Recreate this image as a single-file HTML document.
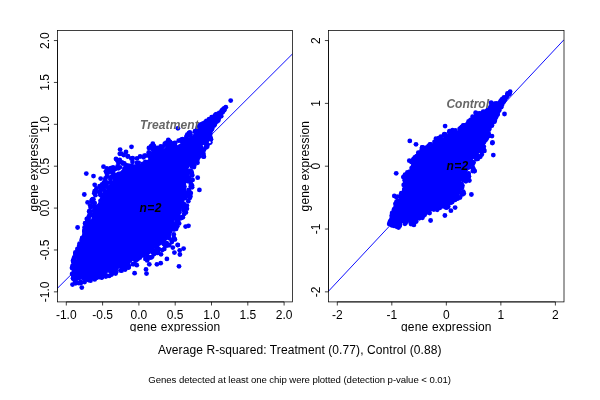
<!DOCTYPE html>
<html><head><meta charset="utf-8"><title>Gene expression scatter plots</title>
<style>
html,body{margin:0;padding:0;background:#fff;}
svg{display:block;}
text{font-family:"Liberation Sans",Arial,Helvetica,sans-serif;font-size:12px;fill:#000;}
.bi{font-weight:bold;font-style:italic;}
</style></head>
<body>
<svg width="600" height="400" viewBox="0 0 600 400">
<defs>
<clipPath id="cb"><rect x="0" y="0" width="600" height="331.6"/></clipPath>
<clipPath id="cl"><rect x="57.50" y="30.50" width="235.10" height="271.40"/></clipPath>
<clipPath id="cr"><rect x="328.50" y="30.50" width="235.50" height="271.40"/></clipPath>
</defs>
<rect width="600" height="400" fill="#fff"/>
<!-- left plot -->
<g fill="#0000ff">
<path d="M83.3 278.7 L83.7 278.6 L84.1 278.5 L92.4 276.9 L102.1 274.4 L113.4 271.1 L121.3 267.2 L129.6 263.1 L131.7 261.9 L134.8 258.4 L135.2 258.0 L135.6 257.6 L136.1 257.3 L139.2 255.5 L139.7 255.3 L140.2 255.1 L140.7 254.9 L141.2 254.8 L141.7 254.8 L142.2 254.8 L142.8 254.9 L143.3 255.0 L143.8 255.2 L144.3 255.4 L144.7 255.7 L147.1 257.3 L149.4 254.4 L149.7 254.0 L150.1 253.7 L150.4 253.4 L150.8 253.2 L151.1 253.0 L153.6 249.3 L156.5 247.5 L157.0 247.3 L161.2 245.1 L165.4 241.8 L167.8 238.9 L168.9 237.1 L168.3 234.0 L168.2 233.4 L168.2 232.7 L168.2 232.0 L168.3 231.3 L168.5 230.7 L168.7 230.0 L169.0 229.4 L169.4 228.8 L169.8 228.3 L172.4 225.0 L174.5 219.4 L174.8 218.8 L175.1 218.2 L175.4 217.7 L175.8 217.2 L176.2 216.8 L178.8 214.3 L180.8 211.6 L183.6 204.5 L184.7 200.5 L185.6 195.4 L185.7 195.0 L186.5 191.9 L186.5 188.6 L186.5 187.8 L186.7 187.1 L186.9 186.4 L186.9 186.4 L186.7 186.1 L186.4 185.5 L186.2 184.8 L186.1 184.1 L186.0 183.5 L186.0 182.8 L186.1 182.1 L186.2 181.4 L186.4 180.8 L187.3 178.0 L187.3 178.0 L189.1 178.0 L190.0 174.7 L188.9 172.6 L188.7 172.2 L188.5 171.7 L188.4 171.2 L188.3 170.7 L188.3 170.2 L188.3 169.7 L188.4 169.3 L188.5 168.8 L188.7 168.3 L188.9 167.9 L189.1 167.4 L189.4 167.0 L189.7 166.6 L190.1 166.3 L192.6 164.1 L192.7 164.0 L194.2 162.7 L194.2 161.0 L194.2 160.5 L194.3 160.0 L194.4 159.5 L194.6 159.0 L194.8 158.6 L195.0 158.2 L195.3 157.7 L195.7 157.4 L196.0 157.0 L196.4 156.7 L196.9 156.5 L197.3 156.2 L197.8 156.1 L201.2 155.0 L201.8 154.3 L200.9 150.7 L200.8 150.2 L200.8 149.7 L200.8 149.1 L200.9 148.6 L201.0 148.1 L201.2 147.6 L201.4 147.1 L201.6 146.7 L201.9 146.3 L202.3 145.9 L202.7 145.5 L203.1 145.2 L203.5 144.9 L205.6 143.8 L206.6 141.6 L209.2 143.2 L210.0 141.6 L211.2 138.4 L209.8 134.3 L209.8 134.1 L209.7 133.9 L209.7 133.7 L209.7 133.4 L209.7 133.2 L209.8 133.0 L209.8 132.8 L209.9 132.6 L210.0 132.4 L214.2 125.7 L214.3 125.7 L219.2 118.2 L222.6 112.4 L222.7 112.3 L225.7 107.6 L225.8 107.3 L224.2 108.5 L219.2 112.7 L219.1 112.8 L218.9 112.9 L211.5 117.0 L206.6 121.1 L206.4 121.3 L199.9 125.3 L195.4 130.2 L195.3 130.3 L195.1 130.5 L194.9 130.6 L194.8 130.7 L191.7 132.2 L194.7 134.1 L190.0 136.4 L185.4 140.2 L185.1 140.4 L184.8 140.7 L181.1 142.9 L176.4 145.7 L175.9 145.9 L175.4 146.1 L175.0 146.2 L174.5 146.3 L174.0 146.4 L173.4 146.4 L172.9 146.3 L172.4 146.2 L172.0 146.1 L171.5 145.9 L171.0 145.7 L169.1 144.5 L167.0 146.1 L161.9 150.3 L161.5 150.6 L161.1 150.9 L160.6 151.1 L160.2 151.3 L159.7 151.4 L159.2 151.5 L158.7 151.5 L158.2 151.5 L157.7 151.4 L157.2 151.3 L156.7 151.1 L156.3 150.9 L155.8 150.7 L153.6 149.3 L152.0 151.6 L150.0 155.8 L150.0 158.0 L142.3 163.5 L137.6 164.4 L136.8 164.5 L135.9 164.5 L135.1 164.5 L134.2 164.3 L129.4 163.4 L124.2 162.6 L124.3 162.9 L124.3 163.8 L124.2 164.7 L124.1 165.6 L123.9 166.5 L123.5 167.4 L123.1 168.2 L122.6 168.9 L122.1 169.6 L121.4 170.3 L120.7 170.9 L120.0 171.4 L119.2 171.8 L118.4 172.2 L117.5 172.4 L113.0 173.6 L113.1 174.2 L113.3 175.1 L113.4 176.0 L113.4 176.9 L113.3 177.8 L113.1 178.8 L112.8 179.6 L112.4 180.5 L112.0 181.3 L111.4 182.0 L108.8 185.2 L106.6 188.8 L106.1 189.5 L105.5 190.2 L104.8 190.9 L104.1 191.4 L103.3 191.9 L101.9 192.7 L101.4 196.1 L101.3 196.9 L101.1 197.7 L100.8 198.5 L100.4 199.3 L100.0 200.0 L96.9 204.7 L96.9 205.0 L93.1 205.0 L93.4 207.7 L93.4 208.2 L93.4 208.7 L93.3 209.3 L91.4 218.5 L91.3 219.0 L91.1 219.5 L90.8 220.0 L86.3 227.8 L87.1 229.7 L87.3 230.2 L87.4 230.7 L87.5 231.2 L87.5 231.7 L87.5 232.3 L87.4 232.8 L87.2 233.3 L87.1 233.8 L83.8 241.2 L80.4 249.6 L80.4 249.6 L77.8 255.9 L75.5 262.1 L75.2 269.8 L76.1 276.3 L76.1 276.8 L76.1 277.3 L75.9 280.1 L76.3 280.3 L79.1 280.3Z"/>
<circle cx="188.8" cy="133.5" r="2.4"/>
<circle cx="142.3" cy="255.3" r="2.4"/>
<circle cx="127.3" cy="263.1" r="2.4"/>
<circle cx="87.9" cy="218.9" r="2.4"/>
<circle cx="75.8" cy="261.4" r="2.4"/>
<circle cx="110.8" cy="168.1" r="2.4"/>
<circle cx="94.5" cy="202.8" r="2.4"/>
<circle cx="112.2" cy="171.5" r="2.4"/>
<circle cx="192.2" cy="165.0" r="2.4"/>
<circle cx="193.7" cy="165.5" r="2.4"/>
<circle cx="74.1" cy="278.4" r="2.4"/>
<circle cx="158.4" cy="150.6" r="2.4"/>
<circle cx="91.9" cy="199.9" r="2.4"/>
<circle cx="156.4" cy="149.9" r="2.4"/>
<circle cx="93.4" cy="199.3" r="2.4"/>
<circle cx="187.4" cy="195.7" r="2.4"/>
<circle cx="184.5" cy="143.0" r="2.4"/>
<circle cx="209.9" cy="141.9" r="2.4"/>
<circle cx="104.3" cy="274.0" r="2.4"/>
<circle cx="116.0" cy="272.2" r="2.4"/>
<circle cx="187.6" cy="179.7" r="2.4"/>
<circle cx="110.3" cy="177.4" r="2.4"/>
<circle cx="171.8" cy="242.0" r="2.4"/>
<circle cx="186.0" cy="196.0" r="2.4"/>
<circle cx="91.0" cy="277.3" r="2.4"/>
<circle cx="128.1" cy="265.4" r="2.4"/>
<circle cx="110.7" cy="182.7" r="2.4"/>
<circle cx="167.6" cy="145.2" r="2.4"/>
<circle cx="136.2" cy="259.6" r="2.4"/>
<circle cx="188.6" cy="134.7" r="2.4"/>
<circle cx="80.9" cy="244.5" r="2.4"/>
<circle cx="119.7" cy="159.8" r="2.4"/>
<circle cx="152.7" cy="153.6" r="2.4"/>
<circle cx="183.8" cy="207.6" r="2.4"/>
<circle cx="178.8" cy="218.8" r="2.4"/>
<circle cx="77.2" cy="256.7" r="2.4"/>
<circle cx="149.7" cy="257.3" r="2.4"/>
<circle cx="205.0" cy="122.7" r="2.4"/>
<circle cx="100.4" cy="194.2" r="2.4"/>
<circle cx="200.3" cy="152.8" r="2.4"/>
<circle cx="132.8" cy="264.2" r="2.4"/>
<circle cx="186.4" cy="136.7" r="2.4"/>
<circle cx="187.5" cy="181.2" r="2.4"/>
<circle cx="192.0" cy="175.4" r="2.4"/>
<circle cx="114.3" cy="177.4" r="2.4"/>
<circle cx="113.2" cy="173.2" r="2.4"/>
<circle cx="80.7" cy="253.1" r="2.4"/>
<circle cx="73.7" cy="275.1" r="2.4"/>
<circle cx="165.8" cy="244.9" r="2.4"/>
<circle cx="182.8" cy="217.3" r="2.4"/>
<circle cx="157.4" cy="252.9" r="2.4"/>
<circle cx="149.7" cy="154.7" r="2.4"/>
<circle cx="194.2" cy="165.2" r="2.4"/>
<circle cx="179.4" cy="212.2" r="2.4"/>
<circle cx="137.0" cy="163.0" r="2.4"/>
<circle cx="171.4" cy="144.2" r="2.4"/>
<circle cx="90.7" cy="277.6" r="2.4"/>
<circle cx="185.1" cy="139.8" r="2.4"/>
<circle cx="79.6" cy="243.6" r="2.4"/>
<circle cx="168.9" cy="232.1" r="2.4"/>
<circle cx="196.6" cy="156.8" r="2.4"/>
<circle cx="78.4" cy="254.1" r="2.4"/>
<circle cx="157.4" cy="247.7" r="2.4"/>
<circle cx="78.8" cy="283.1" r="2.4"/>
<circle cx="96.6" cy="277.5" r="2.4"/>
<circle cx="126.2" cy="266.4" r="2.4"/>
<circle cx="79.2" cy="245.8" r="2.4"/>
<circle cx="209.1" cy="131.4" r="2.4"/>
<circle cx="211.3" cy="126.9" r="2.4"/>
<circle cx="104.5" cy="191.1" r="2.4"/>
<circle cx="223.0" cy="109.5" r="2.4"/>
<circle cx="181.8" cy="141.5" r="2.4"/>
<circle cx="80.5" cy="250.1" r="2.4"/>
<circle cx="74.3" cy="267.7" r="2.4"/>
<circle cx="75.1" cy="277.8" r="2.4"/>
<circle cx="86.8" cy="230.3" r="2.4"/>
<circle cx="149.2" cy="156.1" r="2.4"/>
<circle cx="94.6" cy="208.0" r="2.4"/>
<circle cx="187.2" cy="135.7" r="2.4"/>
<circle cx="191.8" cy="166.6" r="2.4"/>
<circle cx="93.4" cy="278.2" r="2.4"/>
<circle cx="90.5" cy="211.8" r="2.4"/>
<circle cx="153.7" cy="251.0" r="2.4"/>
<circle cx="193.5" cy="160.9" r="2.4"/>
<circle cx="152.6" cy="252.3" r="2.4"/>
<circle cx="107.0" cy="186.8" r="2.4"/>
<circle cx="165.8" cy="144.3" r="2.4"/>
<circle cx="118.7" cy="174.0" r="2.4"/>
<circle cx="155.9" cy="150.8" r="2.4"/>
<circle cx="93.8" cy="206.3" r="2.4"/>
<circle cx="84.9" cy="233.5" r="2.4"/>
<circle cx="176.3" cy="214.4" r="2.4"/>
<circle cx="85.1" cy="223.5" r="2.4"/>
<circle cx="153.8" cy="151.2" r="2.4"/>
<circle cx="108.5" cy="172.5" r="2.4"/>
<circle cx="199.4" cy="128.4" r="2.4"/>
<circle cx="140.9" cy="255.0" r="2.4"/>
<circle cx="73.0" cy="260.8" r="2.4"/>
<circle cx="74.0" cy="270.4" r="2.4"/>
<circle cx="100.0" cy="272.9" r="2.4"/>
<circle cx="142.9" cy="164.0" r="2.4"/>
<circle cx="168.7" cy="146.3" r="2.4"/>
<circle cx="198.9" cy="156.7" r="2.4"/>
<circle cx="209.4" cy="135.2" r="2.4"/>
<circle cx="208.2" cy="143.8" r="2.4"/>
<circle cx="107.7" cy="182.8" r="2.4"/>
<circle cx="75.0" cy="282.0" r="2.4"/>
<circle cx="178.1" cy="222.2" r="2.4"/>
<circle cx="169.1" cy="238.2" r="2.4"/>
<circle cx="198.1" cy="128.4" r="2.4"/>
<circle cx="189.0" cy="133.2" r="2.4"/>
<circle cx="152.3" cy="148.7" r="2.4"/>
<circle cx="82.8" cy="240.4" r="2.4"/>
<circle cx="143.3" cy="255.2" r="2.4"/>
<circle cx="186.2" cy="177.7" r="2.4"/>
<circle cx="85.5" cy="239.9" r="2.4"/>
<circle cx="175.9" cy="226.1" r="2.4"/>
<circle cx="170.8" cy="146.2" r="2.4"/>
<circle cx="186.5" cy="138.3" r="2.4"/>
<circle cx="193.5" cy="159.4" r="2.4"/>
<circle cx="73.6" cy="273.0" r="2.4"/>
<circle cx="170.1" cy="141.9" r="2.4"/>
<circle cx="96.9" cy="277.5" r="2.4"/>
<circle cx="89.8" cy="278.0" r="2.4"/>
<circle cx="201.3" cy="147.7" r="2.4"/>
<circle cx="102.5" cy="187.7" r="2.4"/>
<circle cx="78.3" cy="252.3" r="2.4"/>
<circle cx="99.0" cy="273.9" r="2.4"/>
<circle cx="110.6" cy="169.0" r="2.4"/>
<circle cx="174.0" cy="218.5" r="2.4"/>
<circle cx="94.2" cy="210.6" r="2.4"/>
<circle cx="112.1" cy="176.4" r="2.4"/>
<circle cx="141.4" cy="254.8" r="2.4"/>
<circle cx="188.8" cy="189.9" r="2.4"/>
<circle cx="211.1" cy="130.3" r="2.4"/>
<circle cx="199.1" cy="155.0" r="2.4"/>
<circle cx="86.4" cy="226.3" r="2.4"/>
<circle cx="199.6" cy="126.2" r="2.4"/>
<circle cx="169.2" cy="234.9" r="2.4"/>
<circle cx="162.8" cy="146.7" r="2.4"/>
<circle cx="185.5" cy="198.0" r="2.4"/>
<circle cx="73.9" cy="259.5" r="2.4"/>
<circle cx="112.6" cy="169.5" r="2.4"/>
<circle cx="198.8" cy="129.4" r="2.4"/>
<circle cx="170.6" cy="143.1" r="2.4"/>
<circle cx="170.1" cy="231.8" r="2.4"/>
<circle cx="172.2" cy="229.1" r="2.4"/>
<circle cx="86.4" cy="279.4" r="2.4"/>
<circle cx="87.9" cy="278.8" r="2.4"/>
<circle cx="181.5" cy="139.7" r="2.4"/>
<circle cx="75.6" cy="253.5" r="2.4"/>
<circle cx="90.8" cy="221.7" r="2.4"/>
<circle cx="103.9" cy="182.6" r="2.4"/>
<circle cx="202.9" cy="124.6" r="2.4"/>
<circle cx="118.3" cy="168.3" r="2.4"/>
<circle cx="110.5" cy="179.6" r="2.4"/>
<circle cx="199.8" cy="146.7" r="2.4"/>
<circle cx="74.2" cy="257.5" r="2.4"/>
<circle cx="92.0" cy="277.1" r="2.4"/>
<circle cx="110.8" cy="171.5" r="2.4"/>
<circle cx="194.8" cy="157.1" r="2.4"/>
<circle cx="201.0" cy="148.2" r="2.4"/>
<circle cx="152.9" cy="149.1" r="2.4"/>
<circle cx="112.9" cy="270.2" r="2.4"/>
<circle cx="154.8" cy="148.1" r="2.4"/>
<circle cx="128.7" cy="266.4" r="2.4"/>
<circle cx="108.4" cy="171.5" r="2.4"/>
<circle cx="99.7" cy="276.3" r="2.4"/>
<circle cx="99.0" cy="191.9" r="2.4"/>
<circle cx="224.3" cy="110.1" r="2.4"/>
<circle cx="168.2" cy="229.9" r="2.4"/>
<circle cx="86.3" cy="224.0" r="2.4"/>
<circle cx="88.6" cy="218.8" r="2.4"/>
<circle cx="194.5" cy="161.4" r="2.4"/>
<circle cx="175.1" cy="145.9" r="2.4"/>
<circle cx="82.5" cy="239.5" r="2.4"/>
<circle cx="190.9" cy="184.0" r="2.4"/>
<circle cx="220.6" cy="115.7" r="2.4"/>
<circle cx="154.0" cy="254.1" r="2.4"/>
<circle cx="101.8" cy="276.2" r="2.4"/>
<circle cx="113.0" cy="171.4" r="2.4"/>
<circle cx="92.5" cy="202.0" r="2.4"/>
<circle cx="176.4" cy="222.1" r="2.4"/>
<circle cx="206.2" cy="144.5" r="2.4"/>
<circle cx="82.3" cy="237.8" r="2.4"/>
<circle cx="102.5" cy="188.4" r="2.4"/>
<circle cx="174.6" cy="143.4" r="2.4"/>
<circle cx="94.0" cy="275.9" r="2.4"/>
<circle cx="214.7" cy="116.0" r="2.4"/>
<circle cx="100.2" cy="191.5" r="2.4"/>
<circle cx="165.9" cy="245.7" r="2.4"/>
<circle cx="81.1" cy="249.2" r="2.4"/>
<circle cx="181.2" cy="218.1" r="2.4"/>
<circle cx="114.4" cy="270.0" r="2.4"/>
<circle cx="197.7" cy="127.9" r="2.4"/>
<circle cx="100.6" cy="195.2" r="2.4"/>
<circle cx="184.0" cy="204.2" r="2.4"/>
<circle cx="95.0" cy="210.8" r="2.4"/>
<circle cx="195.5" cy="135.0" r="2.4"/>
<circle cx="122.0" cy="267.7" r="2.4"/>
<circle cx="85.5" cy="228.3" r="2.4"/>
<circle cx="196.8" cy="158.3" r="2.4"/>
<circle cx="86.0" cy="235.1" r="2.4"/>
<circle cx="102.2" cy="198.4" r="2.4"/>
<circle cx="100.5" cy="200.8" r="2.4"/>
<circle cx="110.3" cy="270.4" r="2.4"/>
<circle cx="104.8" cy="186.6" r="2.4"/>
<circle cx="173.0" cy="226.3" r="2.4"/>
<circle cx="76.9" cy="276.9" r="2.4"/>
<circle cx="185.7" cy="192.9" r="2.4"/>
<circle cx="115.3" cy="269.8" r="2.4"/>
<circle cx="191.2" cy="172.9" r="2.4"/>
<circle cx="128.0" cy="266.3" r="2.4"/>
<circle cx="150.3" cy="157.8" r="2.4"/>
<circle cx="89.6" cy="222.8" r="2.4"/>
<circle cx="174.2" cy="224.3" r="2.4"/>
<circle cx="105.8" cy="276.6" r="2.4"/>
<circle cx="177.2" cy="226.2" r="2.4"/>
<circle cx="167.1" cy="244.7" r="2.4"/>
<circle cx="74.3" cy="264.2" r="2.4"/>
<circle cx="139.8" cy="253.6" r="2.4"/>
<circle cx="205.0" cy="142.6" r="2.4"/>
<circle cx="114.9" cy="269.5" r="2.4"/>
<circle cx="194.8" cy="156.4" r="2.4"/>
<circle cx="102.3" cy="275.9" r="2.4"/>
<circle cx="200.2" cy="150.5" r="2.4"/>
<circle cx="105.5" cy="184.0" r="2.4"/>
<circle cx="171.2" cy="229.0" r="2.4"/>
<circle cx="132.5" cy="161.9" r="2.4"/>
<circle cx="160.6" cy="150.0" r="2.4"/>
<circle cx="184.3" cy="142.9" r="2.4"/>
<circle cx="171.1" cy="222.9" r="2.4"/>
<circle cx="194.0" cy="160.7" r="2.4"/>
<circle cx="156.2" cy="249.6" r="2.4"/>
<circle cx="166.4" cy="142.7" r="2.4"/>
<circle cx="86.7" cy="223.6" r="2.4"/>
<circle cx="172.2" cy="228.3" r="2.4"/>
<circle cx="101.4" cy="276.6" r="2.4"/>
<circle cx="143.8" cy="255.1" r="2.4"/>
<circle cx="145.3" cy="161.9" r="2.4"/>
<circle cx="113.2" cy="176.5" r="2.4"/>
<circle cx="73.9" cy="259.1" r="2.4"/>
<circle cx="87.3" cy="232.2" r="2.4"/>
<circle cx="156.8" cy="250.5" r="2.4"/>
<circle cx="192.0" cy="185.5" r="2.4"/>
<circle cx="88.9" cy="216.3" r="2.4"/>
<circle cx="135.8" cy="257.0" r="2.4"/>
<circle cx="137.2" cy="254.7" r="2.4"/>
<circle cx="87.7" cy="236.1" r="2.4"/>
<circle cx="89.8" cy="212.7" r="2.4"/>
<circle cx="114.6" cy="269.5" r="2.4"/>
<circle cx="81.1" cy="246.5" r="2.4"/>
<circle cx="131.3" cy="158.5" r="2.4"/>
<circle cx="190.5" cy="134.4" r="2.4"/>
<circle cx="151.4" cy="157.6" r="2.4"/>
<circle cx="175.0" cy="228.6" r="2.4"/>
<circle cx="73.4" cy="261.9" r="2.4"/>
<circle cx="188.6" cy="193.2" r="2.4"/>
<circle cx="175.2" cy="143.1" r="2.4"/>
<circle cx="184.4" cy="141.6" r="2.4"/>
<circle cx="119.9" cy="167.3" r="2.4"/>
<circle cx="151.4" cy="154.4" r="2.4"/>
<circle cx="111.3" cy="274.7" r="2.4"/>
<circle cx="122.9" cy="163.5" r="2.4"/>
<circle cx="75.6" cy="254.5" r="2.4"/>
<circle cx="124.9" cy="269.1" r="2.4"/>
<circle cx="87.3" cy="276.2" r="2.4"/>
<circle cx="197.3" cy="159.9" r="2.4"/>
<circle cx="84.6" cy="231.2" r="2.4"/>
<circle cx="184.2" cy="213.9" r="2.4"/>
<circle cx="80.7" cy="283.2" r="2.4"/>
<circle cx="163.8" cy="243.9" r="2.4"/>
<circle cx="88.4" cy="234.7" r="2.4"/>
<circle cx="172.0" cy="222.7" r="2.4"/>
<circle cx="89.6" cy="211.7" r="2.4"/>
<circle cx="110.4" cy="271.0" r="2.4"/>
<circle cx="189.2" cy="178.1" r="2.4"/>
<circle cx="153.5" cy="252.1" r="2.4"/>
<circle cx="171.2" cy="227.3" r="2.4"/>
<circle cx="164.9" cy="245.0" r="2.4"/>
<circle cx="124.3" cy="163.5" r="2.4"/>
<circle cx="134.2" cy="259.1" r="2.4"/>
<circle cx="102.0" cy="277.3" r="2.4"/>
<circle cx="78.0" cy="250.0" r="2.4"/>
<circle cx="213.9" cy="124.9" r="2.4"/>
<circle cx="187.3" cy="177.1" r="2.4"/>
<circle cx="128.1" cy="262.6" r="2.4"/>
<circle cx="158.8" cy="249.1" r="2.4"/>
<circle cx="147.5" cy="257.0" r="2.4"/>
<circle cx="143.5" cy="157.3" r="2.4"/>
<circle cx="75.8" cy="274.1" r="2.4"/>
<circle cx="122.0" cy="162.5" r="2.4"/>
<circle cx="91.7" cy="214.9" r="2.4"/>
<circle cx="189.0" cy="190.3" r="2.4"/>
<circle cx="177.8" cy="214.5" r="2.4"/>
<circle cx="100.6" cy="188.7" r="2.4"/>
<circle cx="205.7" cy="142.6" r="2.4"/>
<circle cx="77.3" cy="253.7" r="2.4"/>
<circle cx="175.8" cy="218.2" r="2.4"/>
<circle cx="113.1" cy="269.6" r="2.4"/>
<circle cx="124.5" cy="168.4" r="2.4"/>
<circle cx="84.6" cy="239.5" r="2.4"/>
<circle cx="167.0" cy="143.1" r="2.4"/>
<circle cx="167.5" cy="146.9" r="2.4"/>
<circle cx="175.9" cy="217.9" r="2.4"/>
<circle cx="83.6" cy="242.8" r="2.4"/>
<circle cx="175.9" cy="148.0" r="2.4"/>
<circle cx="84.3" cy="243.4" r="2.4"/>
<circle cx="115.3" cy="168.9" r="2.4"/>
<circle cx="77.5" cy="276.1" r="2.4"/>
<circle cx="82.2" cy="238.5" r="2.4"/>
<circle cx="115.7" cy="269.1" r="2.4"/>
<circle cx="95.2" cy="191.6" r="2.4"/>
<circle cx="86.6" cy="239.5" r="2.4"/>
<circle cx="73.4" cy="278.8" r="2.4"/>
<circle cx="166.7" cy="243.1" r="2.4"/>
<circle cx="161.6" cy="148.9" r="2.4"/>
<circle cx="154.1" cy="146.2" r="2.4"/>
<circle cx="190.0" cy="195.0" r="2.4"/>
<circle cx="151.8" cy="156.4" r="2.4"/>
<circle cx="141.6" cy="254.5" r="2.4"/>
<circle cx="84.5" cy="231.2" r="2.4"/>
<circle cx="203.9" cy="156.7" r="2.4"/>
<circle cx="201.5" cy="151.7" r="2.4"/>
<circle cx="148.7" cy="152.4" r="2.4"/>
<circle cx="189.6" cy="171.0" r="2.4"/>
<circle cx="114.5" cy="271.5" r="2.4"/>
<circle cx="138.7" cy="162.8" r="2.4"/>
<circle cx="124.5" cy="267.3" r="2.4"/>
<circle cx="94.4" cy="203.6" r="2.4"/>
<circle cx="152.6" cy="251.4" r="2.4"/>
<circle cx="84.6" cy="232.0" r="2.4"/>
<circle cx="97.0" cy="206.6" r="2.4"/>
<circle cx="73.9" cy="276.2" r="2.4"/>
<circle cx="147.4" cy="258.5" r="2.4"/>
<circle cx="105.4" cy="178.5" r="2.4"/>
<circle cx="178.4" cy="215.9" r="2.4"/>
<circle cx="73.7" cy="276.9" r="2.4"/>
<circle cx="77.7" cy="275.7" r="2.4"/>
<circle cx="189.5" cy="135.2" r="2.4"/>
<circle cx="183.3" cy="210.0" r="2.4"/>
<circle cx="128.0" cy="262.4" r="2.4"/>
<circle cx="116.6" cy="267.6" r="2.4"/>
<circle cx="103.7" cy="189.4" r="2.4"/>
<circle cx="111.6" cy="271.5" r="2.4"/>
<circle cx="78.5" cy="249.0" r="2.4"/>
<circle cx="174.7" cy="225.6" r="2.4"/>
<circle cx="178.6" cy="216.6" r="2.4"/>
<circle cx="94.5" cy="277.7" r="2.4"/>
<circle cx="94.3" cy="211.4" r="2.4"/>
<circle cx="83.9" cy="278.5" r="2.4"/>
<circle cx="75.7" cy="283.3" r="2.4"/>
<circle cx="76.3" cy="282.2" r="2.4"/>
<circle cx="80.7" cy="281.7" r="2.4"/>
<circle cx="84.6" cy="282.1" r="2.4"/>
<circle cx="88.6" cy="280.0" r="2.4"/>
<circle cx="90.5" cy="280.7" r="2.4"/>
<circle cx="94.7" cy="279.4" r="2.4"/>
<circle cx="99.5" cy="277.0" r="2.4"/>
<circle cx="101.6" cy="277.5" r="2.4"/>
<circle cx="106.1" cy="275.5" r="2.4"/>
<circle cx="109.2" cy="275.9" r="2.4"/>
<circle cx="112.2" cy="273.6" r="2.4"/>
<circle cx="115.6" cy="273.5" r="2.4"/>
<circle cx="120.4" cy="270.4" r="2.4"/>
<circle cx="121.6" cy="270.7" r="2.4"/>
<circle cx="125.2" cy="269.6" r="2.4"/>
<circle cx="128.8" cy="266.9" r="2.4"/>
<circle cx="133.8" cy="264.1" r="2.4"/>
<circle cx="135.6" cy="260.8" r="2.4"/>
<circle cx="137.5" cy="259.3" r="2.4"/>
<circle cx="139.8" cy="257.7" r="2.4"/>
<circle cx="145.4" cy="258.9" r="2.4"/>
<circle cx="147.2" cy="260.4" r="2.4"/>
<circle cx="150.7" cy="257.7" r="2.4"/>
<circle cx="152.1" cy="256.8" r="2.4"/>
<circle cx="155.1" cy="252.8" r="2.4"/>
<circle cx="158.1" cy="252.6" r="2.4"/>
<circle cx="162.2" cy="250.1" r="2.4"/>
<circle cx="164.3" cy="248.9" r="2.4"/>
<circle cx="167.6" cy="245.4" r="2.4"/>
<circle cx="169.3" cy="245.1" r="2.4"/>
<circle cx="171.8" cy="240.3" r="2.4"/>
<circle cx="173.8" cy="237.7" r="2.4"/>
<circle cx="173.8" cy="234.5" r="2.4"/>
<circle cx="174.0" cy="229.6" r="2.4"/>
<circle cx="176.1" cy="228.9" r="2.4"/>
<circle cx="177.0" cy="226.6" r="2.4"/>
<circle cx="179.1" cy="223.4" r="2.4"/>
<circle cx="180.0" cy="218.2" r="2.4"/>
<circle cx="182.7" cy="217.0" r="2.4"/>
<circle cx="185.9" cy="212.4" r="2.4"/>
<circle cx="186.9" cy="208.7" r="2.4"/>
<circle cx="186.9" cy="205.6" r="2.4"/>
<circle cx="188.3" cy="201.2" r="2.4"/>
<circle cx="189.7" cy="198.1" r="2.4"/>
<circle cx="190.4" cy="196.6" r="2.4"/>
<circle cx="190.8" cy="193.1" r="2.4"/>
<circle cx="190.8" cy="186.3" r="2.4"/>
<circle cx="192.1" cy="187.3" r="2.4"/>
<circle cx="190.2" cy="181.7" r="2.4"/>
<circle cx="192.6" cy="179.9" r="2.4"/>
<circle cx="192.2" cy="175.0" r="2.4"/>
<circle cx="191.6" cy="172.2" r="2.4"/>
<circle cx="190.9" cy="171.0" r="2.4"/>
<circle cx="194.0" cy="167.1" r="2.4"/>
<circle cx="197.5" cy="162.8" r="2.4"/>
<circle cx="196.7" cy="160.1" r="2.4"/>
<circle cx="197.7" cy="158.2" r="2.4"/>
<circle cx="203.2" cy="156.4" r="2.4"/>
<circle cx="203.5" cy="153.9" r="2.4"/>
<circle cx="203.9" cy="149.9" r="2.4"/>
<circle cx="205.9" cy="147.5" r="2.4"/>
<circle cx="207.2" cy="146.7" r="2.4"/>
<circle cx="209.1" cy="140.7" r="2.4"/>
<circle cx="211.0" cy="139.3" r="2.4"/>
<circle cx="210.5" cy="137.5" r="2.4"/>
<circle cx="210.3" cy="133.8" r="2.4"/>
<circle cx="212.1" cy="128.4" r="2.4"/>
<circle cx="213.0" cy="125.2" r="2.4"/>
<circle cx="214.8" cy="124.4" r="2.4"/>
<circle cx="218.3" cy="120.5" r="2.4"/>
<circle cx="221.2" cy="116.2" r="2.4"/>
<circle cx="221.0" cy="114.0" r="2.4"/>
<circle cx="223.8" cy="110.3" r="2.4"/>
<circle cx="224.3" cy="108.3" r="2.4"/>
<circle cx="223.0" cy="111.6" r="2.4"/>
<circle cx="220.6" cy="113.4" r="2.4"/>
<circle cx="216.3" cy="114.1" r="2.4"/>
<circle cx="212.2" cy="117.4" r="2.4"/>
<circle cx="209.3" cy="119.7" r="2.4"/>
<circle cx="206.5" cy="120.8" r="2.4"/>
<circle cx="204.9" cy="123.0" r="2.4"/>
<circle cx="200.9" cy="124.4" r="2.4"/>
<circle cx="199.8" cy="125.5" r="2.4"/>
<circle cx="197.0" cy="129.9" r="2.4"/>
<circle cx="195.0" cy="131.2" r="2.4"/>
<circle cx="189.8" cy="132.3" r="2.4"/>
<circle cx="187.3" cy="134.7" r="2.4"/>
<circle cx="182.5" cy="139.2" r="2.4"/>
<circle cx="180.8" cy="140.1" r="2.4"/>
<circle cx="178.7" cy="140.7" r="2.4"/>
<circle cx="174.7" cy="142.8" r="2.4"/>
<circle cx="172.6" cy="143.6" r="2.4"/>
<circle cx="168.6" cy="140.9" r="2.4"/>
<circle cx="164.8" cy="143.7" r="2.4"/>
<circle cx="160.7" cy="146.3" r="2.4"/>
<circle cx="160.8" cy="147.6" r="2.4"/>
<circle cx="157.6" cy="147.8" r="2.4"/>
<circle cx="151.1" cy="146.1" r="2.4"/>
<circle cx="151.8" cy="147.2" r="2.4"/>
<circle cx="149.5" cy="153.0" r="2.4"/>
<circle cx="145.9" cy="155.6" r="2.4"/>
<circle cx="144.4" cy="155.7" r="2.4"/>
<circle cx="140.1" cy="156.5" r="2.4"/>
<circle cx="137.0" cy="158.4" r="2.4"/>
<circle cx="132.7" cy="158.2" r="2.4"/>
<circle cx="127.9" cy="156.1" r="2.4"/>
<circle cx="127.7" cy="156.6" r="2.4"/>
<circle cx="123.7" cy="155.1" r="2.4"/>
<circle cx="121.5" cy="153.7" r="2.4"/>
<circle cx="119.8" cy="153.8" r="2.4"/>
<circle cx="117.3" cy="160.5" r="2.4"/>
<circle cx="118.4" cy="163.0" r="2.4"/>
<circle cx="117.5" cy="166.4" r="2.4"/>
<circle cx="113.1" cy="167.4" r="2.4"/>
<circle cx="112.1" cy="168.1" r="2.4"/>
<circle cx="106.9" cy="168.5" r="2.4"/>
<circle cx="105.9" cy="171.3" r="2.4"/>
<circle cx="106.6" cy="173.1" r="2.4"/>
<circle cx="106.9" cy="176.4" r="2.4"/>
<circle cx="105.2" cy="180.4" r="2.4"/>
<circle cx="102.1" cy="184.4" r="2.4"/>
<circle cx="99.6" cy="186.1" r="2.4"/>
<circle cx="96.5" cy="188.3" r="2.4"/>
<circle cx="94.7" cy="191.1" r="2.4"/>
<circle cx="95.4" cy="195.2" r="2.4"/>
<circle cx="92.8" cy="199.1" r="2.4"/>
<circle cx="91.5" cy="201.2" r="2.4"/>
<circle cx="90.2" cy="205.3" r="2.4"/>
<circle cx="90.6" cy="207.7" r="2.4"/>
<circle cx="89.2" cy="211.2" r="2.4"/>
<circle cx="89.5" cy="215.6" r="2.4"/>
<circle cx="86.8" cy="218.9" r="2.4"/>
<circle cx="87.5" cy="220.4" r="2.4"/>
<circle cx="85.3" cy="223.1" r="2.4"/>
<circle cx="84.6" cy="227.5" r="2.4"/>
<circle cx="84.5" cy="230.1" r="2.4"/>
<circle cx="84.2" cy="235.2" r="2.4"/>
<circle cx="81.9" cy="240.3" r="2.4"/>
<circle cx="81.8" cy="239.9" r="2.4"/>
<circle cx="79.4" cy="247.0" r="2.4"/>
<circle cx="77.4" cy="249.0" r="2.4"/>
<circle cx="75.4" cy="252.4" r="2.4"/>
<circle cx="75.6" cy="254.8" r="2.4"/>
<circle cx="74.3" cy="258.3" r="2.4"/>
<circle cx="73.5" cy="262.0" r="2.4"/>
<circle cx="72.5" cy="266.0" r="2.4"/>
<circle cx="72.0" cy="267.9" r="2.4"/>
<circle cx="72.1" cy="273.9" r="2.4"/>
<circle cx="73.7" cy="275.9" r="2.4"/>
<circle cx="73.0" cy="278.3" r="2.4"/>
<circle cx="72.5" cy="284.6" r="2.4"/>
<circle cx="81.8" cy="287.6" r="2.4"/>
<circle cx="77.6" cy="227.5" r="2.4"/>
<circle cx="87.6" cy="202.4" r="2.4"/>
<circle cx="84.3" cy="194.5" r="2.4"/>
<circle cx="94.3" cy="193.2" r="2.4"/>
<circle cx="94.7" cy="184.8" r="2.4"/>
<circle cx="86.3" cy="173.6" r="2.4"/>
<circle cx="93.5" cy="176.1" r="2.4"/>
<circle cx="100.7" cy="178.6" r="2.4"/>
<circle cx="103.5" cy="166.7" r="2.4"/>
<circle cx="120.1" cy="149.6" r="2.4"/>
<circle cx="131.5" cy="146.8" r="2.4"/>
<circle cx="148.9" cy="147.9" r="2.4"/>
<circle cx="152.8" cy="143.7" r="2.4"/>
<circle cx="168.3" cy="139.9" r="2.4"/>
<circle cx="177.9" cy="128.3" r="2.4"/>
<circle cx="230.7" cy="100.6" r="2.4"/>
<circle cx="197.7" cy="177.7" r="2.4"/>
<circle cx="199.4" cy="189.9" r="2.4"/>
<circle cx="185.6" cy="226.6" r="2.4"/>
<circle cx="188.5" cy="225.8" r="2.4"/>
<circle cx="174.9" cy="239.4" r="2.4"/>
<circle cx="177.7" cy="244.9" r="2.4"/>
<circle cx="183.6" cy="248.6" r="2.4"/>
<circle cx="179.7" cy="250.3" r="2.4"/>
<circle cx="179.9" cy="254.5" r="2.4"/>
<circle cx="172.8" cy="247.6" r="2.4"/>
<circle cx="174.4" cy="252.6" r="2.4"/>
<circle cx="166.9" cy="258.9" r="2.4"/>
<circle cx="160.7" cy="263.2" r="2.4"/>
<circle cx="156.9" cy="264.3" r="2.4"/>
<circle cx="146.0" cy="269.4" r="2.4"/>
<circle cx="146.5" cy="273.6" r="2.4"/>
<circle cx="134.6" cy="273.2" r="2.4"/>
<circle cx="149.3" cy="264.3" r="2.4"/>
<circle cx="136.8" cy="265.2" r="2.4"/>
<circle cx="128.4" cy="267.7" r="2.4"/>
<circle cx="179.0" cy="266.3" r="2.4"/>
<circle cx="177.8" cy="245.1" r="2.4"/>
<circle cx="174.4" cy="239.2" r="2.4"/>
<circle cx="161.0" cy="254.3" r="2.4"/>
<circle cx="210.3" cy="142.5" r="2.4"/>
<circle cx="116.0" cy="159.0" r="2.4"/>
<circle cx="126.0" cy="152.0" r="2.4"/>
<circle cx="225.8" cy="107.2" r="2.4"/>
<circle cx="222.5" cy="112.2" r="2.4"/>
<circle cx="219.1" cy="118.1" r="2.4"/>
<circle cx="214.1" cy="125.6" r="2.4"/>
<circle cx="209.9" cy="132.3" r="2.4"/>
<circle cx="224.1" cy="109.7" r="2.4"/>
<circle cx="220.8" cy="115.1" r="2.4"/>
<circle cx="216.6" cy="121.8" r="2.4"/>
<circle cx="212.0" cy="129.0" r="2.4"/>
<circle cx="224.2" cy="108.7" r="2.4"/>
<circle cx="219.2" cy="112.9" r="2.4"/>
<circle cx="211.7" cy="117.1" r="2.4"/>
<circle cx="206.6" cy="121.3" r="2.4"/>
<circle cx="199.9" cy="125.5" r="2.4"/>
<circle cx="221.7" cy="110.8" r="2.4"/>
<circle cx="215.4" cy="115.0" r="2.4"/>
<circle cx="209.1" cy="119.2" r="2.4"/>
<circle cx="203.2" cy="123.4" r="2.4"/>
<circle cx="222.0" cy="110.5" r="2.4"/>
<circle cx="218.0" cy="115.5" r="2.4"/>
<circle cx="214.0" cy="120.0" r="2.4"/>
<circle cx="210.0" cy="125.0" r="2.4"/>
</g>
<circle cx="209.8" cy="142.3" r="1.0" fill="#fff"/>
<path d="M57.5 288.2 L292.6 53.8" stroke="#0000ff" stroke-width="0.95" fill="none" clip-path="url(#cl)"/>
<text class="bi" x="139.9" y="128.7" style="fill:#666" textLength="58.8">Treatment</text>
<text class="bi" x="139.6" y="212.2" textLength="21.8">n=2</text>
<rect x="57.50" y="30.50" width="235.10" height="271.40" fill="none" stroke="#000" stroke-width="0.75"/>
<path d="M66.30 301.90 H284.10" stroke="#000" stroke-width="0.75" fill="none"/>
<path d="M57.50 291.85 V40.55" stroke="#000" stroke-width="0.75" fill="none"/>
<path d="M66.30 301.90 v3.6" stroke="#000" stroke-width="0.75" fill="none"/>
<text x="66.30" y="319.0" text-anchor="middle">-1.0</text>
<path d="M102.60 301.90 v3.6" stroke="#000" stroke-width="0.75" fill="none"/>
<text x="102.60" y="319.0" text-anchor="middle">-0.5</text>
<path d="M138.90 301.90 v3.6" stroke="#000" stroke-width="0.75" fill="none"/>
<text x="138.90" y="319.0" text-anchor="middle">0.0</text>
<path d="M175.20 301.90 v3.6" stroke="#000" stroke-width="0.75" fill="none"/>
<text x="175.20" y="319.0" text-anchor="middle">0.5</text>
<path d="M211.50 301.90 v3.6" stroke="#000" stroke-width="0.75" fill="none"/>
<text x="211.50" y="319.0" text-anchor="middle">1.0</text>
<path d="M247.80 301.90 v3.6" stroke="#000" stroke-width="0.75" fill="none"/>
<text x="247.80" y="319.0" text-anchor="middle">1.5</text>
<path d="M284.10 301.90 v3.6" stroke="#000" stroke-width="0.75" fill="none"/>
<text x="284.10" y="319.0" text-anchor="middle">2.0</text>
<path d="M57.50 291.85 h-3.6" stroke="#000" stroke-width="0.75" fill="none"/>
<text transform="translate(49.30 291.85) rotate(-90)" text-anchor="middle">-1.0</text>
<path d="M57.50 249.97 h-3.6" stroke="#000" stroke-width="0.75" fill="none"/>
<text transform="translate(49.30 249.97) rotate(-90)" text-anchor="middle">-0.5</text>
<path d="M57.50 208.08 h-3.6" stroke="#000" stroke-width="0.75" fill="none"/>
<text transform="translate(49.30 208.08) rotate(-90)" text-anchor="middle">0.0</text>
<path d="M57.50 166.20 h-3.6" stroke="#000" stroke-width="0.75" fill="none"/>
<text transform="translate(49.30 166.20) rotate(-90)" text-anchor="middle">0.5</text>
<path d="M57.50 124.32 h-3.6" stroke="#000" stroke-width="0.75" fill="none"/>
<text transform="translate(49.30 124.32) rotate(-90)" text-anchor="middle">1.0</text>
<path d="M57.50 82.44 h-3.6" stroke="#000" stroke-width="0.75" fill="none"/>
<text transform="translate(49.30 82.44) rotate(-90)" text-anchor="middle">1.5</text>
<path d="M57.50 40.55 h-3.6" stroke="#000" stroke-width="0.75" fill="none"/>
<text transform="translate(49.30 40.55) rotate(-90)" text-anchor="middle">2.0</text>
<text x="175.05" y="331.0" text-anchor="middle" textLength="90.5" clip-path="url(#cb)">gene expression</text>
<text transform="translate(37.90 166.20) rotate(-90)" text-anchor="middle" textLength="90.5">gene expression</text>
<!-- right plot -->
<g fill="#0000ff">
<path d="M392.5 224.2 L395.6 225.2 L399.6 225.0 L404.6 221.7 L404.9 221.5 L405.3 221.3 L405.6 221.2 L406.0 221.1 L406.4 221.0 L406.8 221.0 L407.2 221.0 L410.9 221.3 L413.5 221.0 L417.3 218.5 L422.8 214.3 L423.2 214.0 L428.9 210.8 L429.3 210.7 L435.1 208.1 L437.8 206.4 L438.1 206.2 L438.4 206.1 L442.1 204.6 L442.5 204.5 L442.9 204.4 L443.3 204.3 L443.8 204.3 L444.2 204.3 L444.6 204.4 L445.0 204.5 L445.4 204.7 L445.8 204.8 L446.1 205.1 L446.1 205.1 L446.3 204.3 L446.4 203.9 L446.5 203.5 L446.7 203.2 L446.9 202.8 L447.1 202.4 L447.4 202.1 L447.7 201.9 L448.1 201.6 L448.4 201.4 L448.8 201.2 L449.2 201.1 L449.6 201.0 L450.0 200.9 L450.5 200.9 L450.9 200.9 L451.3 201.0 L451.7 201.1 L452.1 201.3 L452.1 201.3 L452.2 201.0 L452.3 200.6 L452.4 200.2 L452.6 199.8 L452.8 199.5 L453.1 199.1 L453.4 198.8 L453.7 198.5 L454.0 198.3 L454.4 198.1 L457.1 196.7 L460.0 193.9 L461.2 192.5 L460.6 191.4 L460.4 191.0 L460.3 190.7 L460.2 190.3 L460.1 189.9 L460.1 189.5 L460.1 189.1 L460.1 188.8 L461.0 183.0 L461.1 182.5 L461.3 182.1 L461.4 181.8 L461.6 181.4 L461.9 181.0 L462.1 180.7 L462.5 180.4 L462.8 180.2 L463.1 179.9 L463.5 179.8 L463.9 179.6 L464.3 179.5 L465.4 179.3 L466.4 177.6 L466.8 173.1 L466.9 172.7 L467.0 172.3 L467.1 171.9 L467.3 171.6 L467.5 171.2 L467.7 170.9 L468.0 170.6 L468.3 170.3 L468.6 170.1 L468.9 169.8 L469.3 169.7 L469.7 169.5 L470.7 169.2 L471.4 167.1 L471.9 162.1 L472.0 161.7 L472.1 161.3 L472.3 160.9 L472.5 160.5 L472.7 160.1 L473.0 159.8 L477.2 155.2 L477.4 154.9 L479.8 152.8 L481.7 149.8 L481.3 146.4 L481.3 146.0 L481.3 145.5 L481.4 145.1 L481.5 144.7 L481.7 144.2 L483.9 139.5 L484.6 137.3 L484.7 137.0 L486.6 137.8 L486.6 137.7 L486.7 137.5 L486.8 137.3 L486.9 137.2 L487.1 137.0 L487.2 136.9 L487.4 136.7 L487.6 136.6 L487.8 136.5 L488.0 136.5 L488.2 136.4 L490.3 136.1 L490.4 135.7 L488.9 134.5 L488.7 134.4 L488.6 134.2 L488.5 134.0 L488.3 133.8 L488.3 133.6 L488.2 133.4 L488.1 133.2 L488.1 133.0 L488.1 132.7 L488.1 132.5 L488.2 132.3 L489.0 128.9 L489.0 128.7 L489.1 128.5 L489.2 128.3 L489.3 128.2 L489.4 128.0 L492.7 123.9 L495.0 120.0 L497.5 114.3 L497.5 114.3 L499.0 111.1 L499.1 111.0 L500.9 107.5 L503.4 102.5 L503.6 102.3 L506.9 97.2 L506.9 97.1 L510.1 92.6 L510.2 92.4 L509.2 92.8 L506.0 95.8 L502.0 99.9 L501.8 100.1 L497.6 103.5 L497.4 103.6 L497.2 103.7 L497.0 103.8 L496.8 103.9 L496.6 104.0 L496.4 104.0 L496.2 104.0 L496.0 104.0 L495.8 104.0 L495.6 103.9 L495.4 103.8 L492.9 102.8 L491.8 103.2 L490.7 107.4 L490.7 107.6 L490.6 107.8 L490.5 107.9 L490.4 108.1 L490.2 108.3 L490.1 108.4 L489.9 108.6 L489.7 108.7 L489.5 108.8 L486.0 110.5 L481.3 112.9 L481.1 113.0 L480.9 113.1 L480.7 113.2 L480.5 113.2 L476.6 113.6 L472.5 117.6 L472.4 117.7 L472.2 117.9 L468.3 120.3 L464.3 123.4 L461.3 127.6 L463.2 128.3 L461.9 130.2 L461.6 130.5 L461.4 130.8 L461.0 131.0 L460.7 131.3 L460.3 131.5 L460.0 131.6 L456.5 132.9 L456.1 133.1 L455.7 133.1 L455.4 133.2 L455.0 133.2 L454.6 133.2 L451.2 132.8 L448.8 133.4 L445.3 136.0 L444.9 136.3 L439.6 139.3 L435.8 143.1 L435.4 143.4 L435.0 143.7 L430.4 146.4 L427.1 149.2 L426.8 149.5 L426.4 149.7 L426.1 149.9 L425.7 150.0 L425.3 150.1 L424.9 150.2 L424.5 150.2 L424.1 150.2 L423.7 150.1 L423.5 150.1 L423.4 150.5 L423.3 150.9 L423.1 151.2 L422.9 151.6 L422.7 152.0 L422.4 152.3 L416.5 158.2 L416.4 158.3 L414.0 160.5 L413.7 161.2 L413.9 161.3 L414.1 161.6 L414.4 161.9 L414.6 162.3 L414.8 162.6 L415.0 163.0 L415.1 163.4 L415.2 163.8 L415.2 164.2 L415.2 164.6 L415.2 165.0 L415.1 165.4 L415.0 165.8 L414.8 166.1 L414.6 166.5 L413.1 169.1 L411.2 172.4 L411.0 172.7 L410.8 173.1 L410.5 173.4 L410.2 173.6 L409.8 173.9 L409.5 174.1 L406.3 175.6 L406.2 176.6 L405.8 179.5 L406.7 182.0 L406.8 182.4 L406.9 182.9 L406.9 183.3 L406.9 183.7 L406.8 184.2 L406.7 184.6 L405.0 190.4 L404.9 190.8 L404.7 191.2 L404.5 191.5 L404.3 191.9 L400.8 196.2 L400.5 196.5 L398.8 198.1 L399.0 198.7 L399.1 199.1 L399.2 199.5 L399.2 200.0 L399.2 200.4 L399.1 200.8 L399.0 201.2 L398.9 201.7 L398.7 202.0 L396.5 205.9 L395.0 212.0 L394.9 212.2 L394.1 214.9 L393.5 219.1 L393.4 219.6 L393.2 220.0 L393.0 220.4 L391.9 222.6 L391.6 223.5Z"/>
<circle cx="400.0" cy="224.8" r="2.4"/>
<circle cx="472.7" cy="162.1" r="2.4"/>
<circle cx="492.4" cy="123.0" r="2.4"/>
<circle cx="405.1" cy="174.6" r="2.4"/>
<circle cx="501.9" cy="100.5" r="2.4"/>
<circle cx="482.8" cy="143.5" r="2.4"/>
<circle cx="439.1" cy="206.8" r="2.4"/>
<circle cx="396.4" cy="226.0" r="2.4"/>
<circle cx="459.6" cy="184.8" r="2.4"/>
<circle cx="390.1" cy="223.2" r="2.4"/>
<circle cx="437.4" cy="205.3" r="2.4"/>
<circle cx="451.5" cy="200.5" r="2.4"/>
<circle cx="443.8" cy="202.8" r="2.4"/>
<circle cx="497.4" cy="111.8" r="2.4"/>
<circle cx="404.2" cy="220.2" r="2.4"/>
<circle cx="426.0" cy="212.8" r="2.4"/>
<circle cx="465.8" cy="179.1" r="2.4"/>
<circle cx="398.9" cy="204.3" r="2.4"/>
<circle cx="405.3" cy="183.1" r="2.4"/>
<circle cx="484.1" cy="142.1" r="2.4"/>
<circle cx="491.8" cy="105.3" r="2.4"/>
<circle cx="499.3" cy="104.7" r="2.4"/>
<circle cx="480.7" cy="144.7" r="2.4"/>
<circle cx="476.3" cy="158.2" r="2.4"/>
<circle cx="395.5" cy="210.0" r="2.4"/>
<circle cx="439.7" cy="207.9" r="2.4"/>
<circle cx="394.5" cy="212.4" r="2.4"/>
<circle cx="467.6" cy="178.5" r="2.4"/>
<circle cx="472.1" cy="164.3" r="2.4"/>
<circle cx="495.2" cy="116.9" r="2.4"/>
<circle cx="497.0" cy="111.5" r="2.4"/>
<circle cx="450.7" cy="131.3" r="2.4"/>
<circle cx="406.0" cy="220.9" r="2.4"/>
<circle cx="422.3" cy="147.3" r="2.4"/>
<circle cx="440.3" cy="204.6" r="2.4"/>
<circle cx="458.7" cy="186.4" r="2.4"/>
<circle cx="404.3" cy="189.1" r="2.4"/>
<circle cx="393.9" cy="209.7" r="2.4"/>
<circle cx="406.7" cy="174.5" r="2.4"/>
<circle cx="420.5" cy="156.7" r="2.4"/>
<circle cx="404.8" cy="180.1" r="2.4"/>
<circle cx="481.6" cy="151.1" r="2.4"/>
<circle cx="405.9" cy="186.3" r="2.4"/>
<circle cx="457.1" cy="197.3" r="2.4"/>
<circle cx="392.8" cy="217.3" r="2.4"/>
<circle cx="440.4" cy="204.9" r="2.4"/>
<circle cx="459.6" cy="133.2" r="2.4"/>
<circle cx="416.2" cy="221.5" r="2.4"/>
<circle cx="461.3" cy="183.6" r="2.4"/>
<circle cx="473.2" cy="168.8" r="2.4"/>
<circle cx="423.6" cy="215.5" r="2.4"/>
<circle cx="494.6" cy="103.7" r="2.4"/>
<circle cx="420.8" cy="213.4" r="2.4"/>
<circle cx="495.7" cy="104.8" r="2.4"/>
<circle cx="402.9" cy="194.4" r="2.4"/>
<circle cx="419.6" cy="218.1" r="2.4"/>
<circle cx="497.8" cy="105.3" r="2.4"/>
<circle cx="424.0" cy="147.9" r="2.4"/>
<circle cx="463.2" cy="191.6" r="2.4"/>
<circle cx="456.4" cy="133.1" r="2.4"/>
<circle cx="420.1" cy="157.0" r="2.4"/>
<circle cx="482.8" cy="146.1" r="2.4"/>
<circle cx="392.1" cy="216.9" r="2.4"/>
<circle cx="397.2" cy="209.2" r="2.4"/>
<circle cx="406.5" cy="177.2" r="2.4"/>
<circle cx="416.8" cy="157.3" r="2.4"/>
<circle cx="393.8" cy="219.6" r="2.4"/>
<circle cx="436.9" cy="144.0" r="2.4"/>
<circle cx="410.1" cy="173.5" r="2.4"/>
<circle cx="487.2" cy="110.6" r="2.4"/>
<circle cx="445.4" cy="134.3" r="2.4"/>
<circle cx="424.2" cy="153.0" r="2.4"/>
<circle cx="414.5" cy="167.0" r="2.4"/>
<circle cx="461.7" cy="127.9" r="2.4"/>
<circle cx="476.4" cy="159.1" r="2.4"/>
<circle cx="499.4" cy="103.0" r="2.4"/>
<circle cx="393.4" cy="218.1" r="2.4"/>
<circle cx="414.1" cy="222.4" r="2.4"/>
<circle cx="509.8" cy="93.0" r="2.4"/>
<circle cx="499.0" cy="109.9" r="2.4"/>
<circle cx="445.3" cy="202.1" r="2.4"/>
<circle cx="481.9" cy="148.1" r="2.4"/>
<circle cx="397.2" cy="209.5" r="2.4"/>
<circle cx="497.9" cy="111.5" r="2.4"/>
<circle cx="487.2" cy="111.1" r="2.4"/>
<circle cx="483.2" cy="136.8" r="2.4"/>
<circle cx="468.6" cy="177.8" r="2.4"/>
<circle cx="442.7" cy="206.0" r="2.4"/>
<circle cx="412.4" cy="162.2" r="2.4"/>
<circle cx="392.6" cy="213.9" r="2.4"/>
<circle cx="414.6" cy="221.3" r="2.4"/>
<circle cx="423.5" cy="149.1" r="2.4"/>
<circle cx="412.4" cy="171.8" r="2.4"/>
<circle cx="416.2" cy="163.0" r="2.4"/>
<circle cx="487.7" cy="110.6" r="2.4"/>
<circle cx="483.0" cy="139.2" r="2.4"/>
<circle cx="395.7" cy="206.6" r="2.4"/>
<circle cx="458.5" cy="188.8" r="2.4"/>
<circle cx="425.2" cy="211.7" r="2.4"/>
<circle cx="425.8" cy="148.5" r="2.4"/>
<circle cx="398.2" cy="204.6" r="2.4"/>
<circle cx="428.1" cy="148.2" r="2.4"/>
<circle cx="446.4" cy="206.8" r="2.4"/>
<circle cx="491.7" cy="125.5" r="2.4"/>
<circle cx="447.6" cy="203.6" r="2.4"/>
<circle cx="412.9" cy="160.6" r="2.4"/>
<circle cx="452.3" cy="201.7" r="2.4"/>
<circle cx="418.2" cy="155.2" r="2.4"/>
<circle cx="422.6" cy="213.4" r="2.4"/>
<circle cx="465.7" cy="173.4" r="2.4"/>
<circle cx="470.9" cy="120.2" r="2.4"/>
<circle cx="398.6" cy="224.8" r="2.4"/>
<circle cx="424.8" cy="148.5" r="2.4"/>
<circle cx="415.8" cy="164.0" r="2.4"/>
<circle cx="455.0" cy="199.9" r="2.4"/>
<circle cx="460.7" cy="187.8" r="2.4"/>
<circle cx="403.0" cy="193.1" r="2.4"/>
<circle cx="413.5" cy="159.1" r="2.4"/>
<circle cx="393.7" cy="223.7" r="2.4"/>
<circle cx="437.6" cy="205.8" r="2.4"/>
<circle cx="414.8" cy="167.5" r="2.4"/>
<circle cx="457.4" cy="195.8" r="2.4"/>
<circle cx="462.3" cy="185.3" r="2.4"/>
<circle cx="412.3" cy="170.1" r="2.4"/>
<circle cx="443.1" cy="203.0" r="2.4"/>
<circle cx="453.4" cy="131.6" r="2.4"/>
<circle cx="479.4" cy="114.8" r="2.4"/>
<circle cx="434.6" cy="145.2" r="2.4"/>
<circle cx="475.6" cy="154.5" r="2.4"/>
<circle cx="393.0" cy="222.5" r="2.4"/>
<circle cx="463.8" cy="180.3" r="2.4"/>
<circle cx="454.1" cy="132.4" r="2.4"/>
<circle cx="416.1" cy="159.6" r="2.4"/>
<circle cx="447.7" cy="136.6" r="2.4"/>
<circle cx="454.5" cy="196.8" r="2.4"/>
<circle cx="394.7" cy="223.7" r="2.4"/>
<circle cx="407.5" cy="188.9" r="2.4"/>
<circle cx="492.5" cy="106.5" r="2.4"/>
<circle cx="476.7" cy="155.8" r="2.4"/>
<circle cx="476.8" cy="114.6" r="2.4"/>
<circle cx="416.6" cy="156.2" r="2.4"/>
<circle cx="484.2" cy="135.7" r="2.4"/>
<circle cx="467.5" cy="177.6" r="2.4"/>
<circle cx="406.1" cy="180.1" r="2.4"/>
<circle cx="404.2" cy="176.7" r="2.4"/>
<circle cx="400.8" cy="196.2" r="2.4"/>
<circle cx="397.0" cy="207.6" r="2.4"/>
<circle cx="480.7" cy="113.7" r="2.4"/>
<circle cx="463.2" cy="125.5" r="2.4"/>
<circle cx="421.4" cy="153.0" r="2.4"/>
<circle cx="396.6" cy="226.5" r="2.4"/>
<circle cx="460.9" cy="128.1" r="2.4"/>
<circle cx="451.1" cy="202.6" r="2.4"/>
<circle cx="397.8" cy="205.2" r="2.4"/>
<circle cx="480.7" cy="148.7" r="2.4"/>
<circle cx="392.7" cy="212.7" r="2.4"/>
<circle cx="475.8" cy="116.4" r="2.4"/>
<circle cx="473.3" cy="119.3" r="2.4"/>
<circle cx="461.5" cy="129.6" r="2.4"/>
<circle cx="479.4" cy="113.3" r="2.4"/>
<circle cx="495.1" cy="117.9" r="2.4"/>
<circle cx="414.2" cy="158.8" r="2.4"/>
<circle cx="425.0" cy="151.7" r="2.4"/>
<circle cx="486.6" cy="132.7" r="2.4"/>
<circle cx="475.6" cy="156.2" r="2.4"/>
<circle cx="459.1" cy="132.4" r="2.4"/>
<circle cx="397.7" cy="201.2" r="2.4"/>
<circle cx="391.4" cy="221.8" r="2.4"/>
<circle cx="434.4" cy="207.5" r="2.4"/>
<circle cx="467.7" cy="175.4" r="2.4"/>
<circle cx="414.2" cy="220.5" r="2.4"/>
<circle cx="420.5" cy="156.3" r="2.4"/>
<circle cx="399.5" cy="225.0" r="2.4"/>
<circle cx="440.8" cy="136.7" r="2.4"/>
<circle cx="446.4" cy="201.4" r="2.4"/>
<circle cx="398.8" cy="201.8" r="2.4"/>
<circle cx="406.7" cy="174.8" r="2.4"/>
<circle cx="458.9" cy="185.0" r="2.4"/>
<circle cx="401.0" cy="201.2" r="2.4"/>
<circle cx="485.6" cy="139.9" r="2.4"/>
<circle cx="391.7" cy="215.7" r="2.4"/>
<circle cx="448.3" cy="203.0" r="2.4"/>
<circle cx="503.8" cy="99.7" r="2.4"/>
<circle cx="472.6" cy="119.9" r="2.4"/>
<circle cx="468.6" cy="173.5" r="2.4"/>
<circle cx="437.9" cy="141.4" r="2.4"/>
<circle cx="500.8" cy="102.1" r="2.4"/>
<circle cx="473.7" cy="119.2" r="2.4"/>
<circle cx="446.3" cy="207.7" r="2.4"/>
<circle cx="449.4" cy="132.5" r="2.4"/>
<circle cx="407.5" cy="186.4" r="2.4"/>
<circle cx="488.9" cy="129.7" r="2.4"/>
<circle cx="461.8" cy="126.8" r="2.4"/>
<circle cx="461.8" cy="194.1" r="2.4"/>
<circle cx="493.7" cy="120.8" r="2.4"/>
<circle cx="459.9" cy="192.1" r="2.4"/>
<circle cx="481.0" cy="150.5" r="2.4"/>
<circle cx="458.6" cy="134.3" r="2.4"/>
<circle cx="395.1" cy="225.8" r="2.4"/>
<circle cx="501.7" cy="103.5" r="2.4"/>
<circle cx="446.3" cy="204.5" r="2.4"/>
<circle cx="477.0" cy="155.6" r="2.4"/>
<circle cx="425.2" cy="151.7" r="2.4"/>
<circle cx="489.4" cy="125.3" r="2.4"/>
<circle cx="491.5" cy="122.7" r="2.4"/>
<circle cx="490.6" cy="106.8" r="2.4"/>
<circle cx="502.5" cy="99.0" r="2.4"/>
<circle cx="481.4" cy="115.0" r="2.4"/>
<circle cx="463.4" cy="129.8" r="2.4"/>
<circle cx="443.1" cy="203.0" r="2.4"/>
<circle cx="482.7" cy="139.0" r="2.4"/>
<circle cx="393.4" cy="218.9" r="2.4"/>
<circle cx="428.6" cy="146.0" r="2.4"/>
<circle cx="440.5" cy="138.9" r="2.4"/>
<circle cx="398.1" cy="201.2" r="2.4"/>
<circle cx="482.0" cy="140.4" r="2.4"/>
<circle cx="488.7" cy="127.2" r="2.4"/>
<circle cx="415.0" cy="158.0" r="2.4"/>
<circle cx="433.2" cy="208.6" r="2.4"/>
<circle cx="390.1" cy="221.3" r="2.4"/>
<circle cx="414.3" cy="165.3" r="2.4"/>
<circle cx="419.3" cy="218.0" r="2.4"/>
<circle cx="422.3" cy="148.5" r="2.4"/>
<circle cx="437.6" cy="207.6" r="2.4"/>
<circle cx="418.2" cy="217.3" r="2.4"/>
<circle cx="410.3" cy="221.7" r="2.4"/>
<circle cx="418.9" cy="215.8" r="2.4"/>
<circle cx="427.0" cy="147.5" r="2.4"/>
<circle cx="479.0" cy="150.4" r="2.4"/>
<circle cx="413.0" cy="170.6" r="2.4"/>
<circle cx="426.4" cy="150.0" r="2.4"/>
<circle cx="421.4" cy="153.8" r="2.4"/>
<circle cx="479.3" cy="114.1" r="2.4"/>
<circle cx="435.5" cy="141.9" r="2.4"/>
<circle cx="457.7" cy="198.5" r="2.4"/>
<circle cx="448.1" cy="206.2" r="2.4"/>
<circle cx="490.2" cy="108.1" r="2.4"/>
<circle cx="487.5" cy="135.8" r="2.4"/>
<circle cx="430.3" cy="209.2" r="2.4"/>
<circle cx="482.1" cy="141.2" r="2.4"/>
<circle cx="416.9" cy="157.6" r="2.4"/>
<circle cx="391.7" cy="225.3" r="2.4"/>
<circle cx="393.8" cy="225.8" r="2.4"/>
<circle cx="398.5" cy="227.5" r="2.4"/>
<circle cx="399.6" cy="226.0" r="2.4"/>
<circle cx="404.9" cy="223.8" r="2.4"/>
<circle cx="405.7" cy="222.8" r="2.4"/>
<circle cx="411.0" cy="224.0" r="2.4"/>
<circle cx="413.9" cy="222.7" r="2.4"/>
<circle cx="416.1" cy="219.9" r="2.4"/>
<circle cx="422.4" cy="217.8" r="2.4"/>
<circle cx="421.7" cy="216.6" r="2.4"/>
<circle cx="424.7" cy="214.7" r="2.4"/>
<circle cx="429.6" cy="213.0" r="2.4"/>
<circle cx="433.8" cy="209.6" r="2.4"/>
<circle cx="437.2" cy="209.8" r="2.4"/>
<circle cx="439.4" cy="207.2" r="2.4"/>
<circle cx="443.5" cy="206.3" r="2.4"/>
<circle cx="445.9" cy="207.2" r="2.4"/>
<circle cx="447.9" cy="207.1" r="2.4"/>
<circle cx="448.8" cy="203.3" r="2.4"/>
<circle cx="451.9" cy="202.0" r="2.4"/>
<circle cx="453.4" cy="199.8" r="2.4"/>
<circle cx="456.8" cy="198.4" r="2.4"/>
<circle cx="460.0" cy="197.5" r="2.4"/>
<circle cx="462.4" cy="194.4" r="2.4"/>
<circle cx="463.8" cy="193.5" r="2.4"/>
<circle cx="462.0" cy="187.8" r="2.4"/>
<circle cx="462.0" cy="186.6" r="2.4"/>
<circle cx="465.9" cy="181.3" r="2.4"/>
<circle cx="467.1" cy="179.3" r="2.4"/>
<circle cx="468.9" cy="176.3" r="2.4"/>
<circle cx="468.3" cy="175.2" r="2.4"/>
<circle cx="472.8" cy="171.1" r="2.4"/>
<circle cx="473.1" cy="168.2" r="2.4"/>
<circle cx="472.5" cy="164.7" r="2.4"/>
<circle cx="473.6" cy="162.4" r="2.4"/>
<circle cx="477.7" cy="158.9" r="2.4"/>
<circle cx="478.3" cy="156.1" r="2.4"/>
<circle cx="481.8" cy="154.5" r="2.4"/>
<circle cx="483.8" cy="149.3" r="2.4"/>
<circle cx="483.8" cy="146.6" r="2.4"/>
<circle cx="484.1" cy="141.2" r="2.4"/>
<circle cx="486.7" cy="138.5" r="2.4"/>
<circle cx="488.4" cy="135.5" r="2.4"/>
<circle cx="489.3" cy="135.8" r="2.4"/>
<circle cx="488.6" cy="133.3" r="2.4"/>
<circle cx="489.4" cy="128.7" r="2.4"/>
<circle cx="491.9" cy="125.4" r="2.4"/>
<circle cx="494.4" cy="121.7" r="2.4"/>
<circle cx="494.3" cy="121.3" r="2.4"/>
<circle cx="496.0" cy="116.8" r="2.4"/>
<circle cx="497.6" cy="114.5" r="2.4"/>
<circle cx="498.6" cy="109.4" r="2.4"/>
<circle cx="501.3" cy="107.0" r="2.4"/>
<circle cx="502.2" cy="103.1" r="2.4"/>
<circle cx="504.2" cy="100.7" r="2.4"/>
<circle cx="505.3" cy="97.8" r="2.4"/>
<circle cx="507.5" cy="94.6" r="2.4"/>
<circle cx="508.9" cy="94.2" r="2.4"/>
<circle cx="507.3" cy="95.2" r="2.4"/>
<circle cx="502.5" cy="99.2" r="2.4"/>
<circle cx="501.2" cy="100.5" r="2.4"/>
<circle cx="497.0" cy="104.6" r="2.4"/>
<circle cx="496.4" cy="103.5" r="2.4"/>
<circle cx="491.6" cy="104.7" r="2.4"/>
<circle cx="491.0" cy="108.8" r="2.4"/>
<circle cx="488.1" cy="109.7" r="2.4"/>
<circle cx="484.7" cy="112.0" r="2.4"/>
<circle cx="483.2" cy="111.7" r="2.4"/>
<circle cx="478.8" cy="113.8" r="2.4"/>
<circle cx="476.2" cy="113.4" r="2.4"/>
<circle cx="472.6" cy="116.7" r="2.4"/>
<circle cx="470.6" cy="119.8" r="2.4"/>
<circle cx="468.6" cy="121.4" r="2.4"/>
<circle cx="464.2" cy="125.5" r="2.4"/>
<circle cx="460.7" cy="128.2" r="2.4"/>
<circle cx="459.6" cy="128.9" r="2.4"/>
<circle cx="455.3" cy="130.4" r="2.4"/>
<circle cx="452.5" cy="130.2" r="2.4"/>
<circle cx="449.4" cy="131.2" r="2.4"/>
<circle cx="444.3" cy="134.1" r="2.4"/>
<circle cx="443.9" cy="135.1" r="2.4"/>
<circle cx="438.7" cy="138.2" r="2.4"/>
<circle cx="435.9" cy="138.7" r="2.4"/>
<circle cx="434.5" cy="141.9" r="2.4"/>
<circle cx="430.8" cy="144.3" r="2.4"/>
<circle cx="429.9" cy="144.4" r="2.4"/>
<circle cx="425.8" cy="148.4" r="2.4"/>
<circle cx="422.2" cy="147.5" r="2.4"/>
<circle cx="421.8" cy="149.5" r="2.4"/>
<circle cx="420.4" cy="152.5" r="2.4"/>
<circle cx="418.3" cy="152.7" r="2.4"/>
<circle cx="414.8" cy="157.3" r="2.4"/>
<circle cx="413.0" cy="160.7" r="2.4"/>
<circle cx="411.4" cy="161.9" r="2.4"/>
<circle cx="413.3" cy="165.2" r="2.4"/>
<circle cx="411.6" cy="168.1" r="2.4"/>
<circle cx="409.7" cy="171.7" r="2.4"/>
<circle cx="407.4" cy="172.5" r="2.4"/>
<circle cx="403.3" cy="177.1" r="2.4"/>
<circle cx="404.8" cy="180.5" r="2.4"/>
<circle cx="405.1" cy="183.0" r="2.4"/>
<circle cx="403.7" cy="184.9" r="2.4"/>
<circle cx="404.3" cy="190.5" r="2.4"/>
<circle cx="401.3" cy="193.2" r="2.4"/>
<circle cx="397.8" cy="196.6" r="2.4"/>
<circle cx="396.3" cy="197.1" r="2.4"/>
<circle cx="396.5" cy="201.7" r="2.4"/>
<circle cx="395.4" cy="203.8" r="2.4"/>
<circle cx="394.4" cy="209.2" r="2.4"/>
<circle cx="392.1" cy="213.1" r="2.4"/>
<circle cx="392.7" cy="215.1" r="2.4"/>
<circle cx="391.3" cy="219.3" r="2.4"/>
<circle cx="389.2" cy="223.9" r="2.4"/>
<circle cx="504.5" cy="114.0" r="2.4"/>
<circle cx="492.3" cy="143.1" r="2.4"/>
<circle cx="493.3" cy="155.1" r="2.4"/>
<circle cx="471.4" cy="194.5" r="2.4"/>
<circle cx="444.9" cy="215.5" r="2.4"/>
<circle cx="430.6" cy="220.5" r="2.4"/>
<circle cx="409.8" cy="140.9" r="2.4"/>
<circle cx="396.2" cy="173.3" r="2.4"/>
<circle cx="445.1" cy="126.1" r="2.4"/>
<circle cx="416.0" cy="144.3" r="2.4"/>
<circle cx="409.3" cy="160.7" r="2.4"/>
<circle cx="394.3" cy="195.9" r="2.4"/>
<circle cx="413.9" cy="224.9" r="2.4"/>
<circle cx="450.9" cy="210.7" r="2.4"/>
<circle cx="455.1" cy="207.6" r="2.4"/>
<circle cx="474.6" cy="171.1" r="2.4"/>
<circle cx="469.4" cy="180.6" r="2.4"/>
<circle cx="484.4" cy="150.9" r="2.4"/>
<circle cx="480.3" cy="156.8" r="2.4"/>
<circle cx="492.5" cy="142.5" r="2.4"/>
<circle cx="492.0" cy="136.1" r="2.4"/>
<circle cx="491.1" cy="102.6" r="2.4"/>
<circle cx="475.6" cy="112.7" r="2.4"/>
<circle cx="474.4" cy="171.0" r="2.4"/>
<circle cx="510.1" cy="91.6" r="2.4"/>
<circle cx="506.7" cy="97.1" r="2.4"/>
<circle cx="503.4" cy="102.2" r="2.4"/>
<circle cx="500.9" cy="107.2" r="2.4"/>
<circle cx="497.5" cy="113.9" r="2.4"/>
<circle cx="495.0" cy="119.7" r="2.4"/>
<circle cx="508.4" cy="94.2" r="2.4"/>
<circle cx="505.0" cy="99.6" r="2.4"/>
<circle cx="502.1" cy="104.7" r="2.4"/>
<circle cx="499.2" cy="110.5" r="2.4"/>
<circle cx="496.2" cy="116.8" r="2.4"/>
<circle cx="507.5" cy="93.5" r="2.4"/>
<circle cx="504.0" cy="97.5" r="2.4"/>
<circle cx="500.5" cy="101.5" r="2.4"/>
<circle cx="497.0" cy="105.0" r="2.4"/>
<circle cx="493.5" cy="108.5" r="2.4"/>
</g>

<path d="M328.5 291.2 L564.0 39.7" stroke="#0000ff" stroke-width="0.95" fill="none" clip-path="url(#cr)"/>
<text class="bi" x="446.4" y="108.4" style="fill:#666" textLength="42.6">Control</text>
<text class="bi" x="446.5" y="170.2" textLength="21.8">n=2</text>
<rect x="328.50" y="30.50" width="235.50" height="271.40" fill="none" stroke="#000" stroke-width="0.75"/>
<path d="M337.30 301.90 H555.38" stroke="#000" stroke-width="0.75" fill="none"/>
<path d="M328.50 291.85 V40.55" stroke="#000" stroke-width="0.75" fill="none"/>
<path d="M337.30 301.90 v3.6" stroke="#000" stroke-width="0.75" fill="none"/>
<text x="337.30" y="319.0" text-anchor="middle">-2</text>
<path d="M391.82 301.90 v3.6" stroke="#000" stroke-width="0.75" fill="none"/>
<text x="391.82" y="319.0" text-anchor="middle">-1</text>
<path d="M446.34 301.90 v3.6" stroke="#000" stroke-width="0.75" fill="none"/>
<text x="446.34" y="319.0" text-anchor="middle">0</text>
<path d="M500.86 301.90 v3.6" stroke="#000" stroke-width="0.75" fill="none"/>
<text x="500.86" y="319.0" text-anchor="middle">1</text>
<path d="M555.38 301.90 v3.6" stroke="#000" stroke-width="0.75" fill="none"/>
<text x="555.38" y="319.0" text-anchor="middle">2</text>
<path d="M328.50 291.85 h-3.6" stroke="#000" stroke-width="0.75" fill="none"/>
<text transform="translate(320.30 291.85) rotate(-90)" text-anchor="middle">-2</text>
<path d="M328.50 229.03 h-3.6" stroke="#000" stroke-width="0.75" fill="none"/>
<text transform="translate(320.30 229.03) rotate(-90)" text-anchor="middle">-1</text>
<path d="M328.50 166.20 h-3.6" stroke="#000" stroke-width="0.75" fill="none"/>
<text transform="translate(320.30 166.20) rotate(-90)" text-anchor="middle">0</text>
<path d="M328.50 103.38 h-3.6" stroke="#000" stroke-width="0.75" fill="none"/>
<text transform="translate(320.30 103.38) rotate(-90)" text-anchor="middle">1</text>
<path d="M328.50 40.55 h-3.6" stroke="#000" stroke-width="0.75" fill="none"/>
<text transform="translate(320.30 40.55) rotate(-90)" text-anchor="middle">2</text>
<text x="446.25" y="331.0" text-anchor="middle" textLength="90.5" clip-path="url(#cb)">gene expression</text>
<text transform="translate(309.40 166.20) rotate(-90)" text-anchor="middle" textLength="90.5">gene expression</text>
<!-- captions -->
<text x="299.7" y="354" text-anchor="middle" textLength="283.6">Average R-squared: Treatment (0.77), Control (0.88)</text>
<text x="299.7" y="383" text-anchor="middle" textLength="302.7" style="font-size:9.6px">Genes detected at least one chip were plotted (detection p-value &lt; 0.01)</text>
</svg>
</body></html>
